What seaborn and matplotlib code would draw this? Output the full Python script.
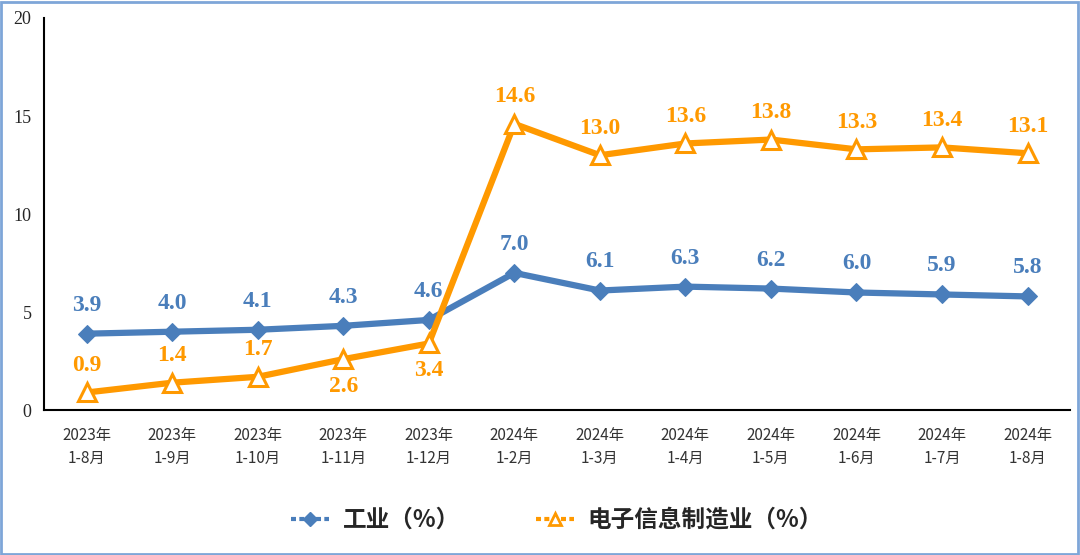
import pandas as pd
import matplotlib
matplotlib.use('Agg')
import matplotlib.pyplot as plt
import seaborn as sns
from matplotlib.patches import Rectangle
from matplotlib.lines import Line2D

periods = ['2023年\n1-8月', '2023年\n1-9月', '2023年\n1-10月', '2023年\n1-11月', '2023年\n1-12月',
           '2024年\n1-2月', '2024年\n1-3月', '2024年\n1-4月', '2024年\n1-5月', '2024年\n1-6月',
           '2024年\n1-7月', '2024年\n1-8月']
industry = [3.9, 4.0, 4.1, 4.3, 4.6, 7.0, 6.1, 6.3, 6.2, 6.0, 5.9, 5.8]
electronics = [0.9, 1.4, 1.7, 2.6, 3.4, 14.6, 13.0, 13.6, 13.8, 13.3, 13.4, 13.1]
name_ind = '工业（%）'
name_ele = '电子信息制造业（%）'

blue = '#4A7EBB'
orange = '#FF9900'

sns.set_style('white')
plt.rcParams['font.family'] = ['Noto Sans CJK SC', 'DejaVu Sans']

df = pd.DataFrame({'x': list(range(len(periods))), 'ind': industry, 'ele': electronics})

fig = plt.figure(figsize=(10.8, 5.55), dpi=100)
ax = fig.add_axes([0.0407, 0.261, 0.9503, 0.7066])

sns.lineplot(data=df, x='x', y='ind', ax=ax, color=blue, linewidth=4.5, marker='D',
             markersize=9, markeredgecolor=blue, markerfacecolor=blue, legend=False)
sns.lineplot(data=df, x='x', y='ele', ax=ax, color=orange, linewidth=4.5, marker='^',
             markersize=13, markeredgecolor=orange, markerfacecolor='white',
             markeredgewidth=2.2, legend=False)

serif = 'Liberation Serif'
for i, v in enumerate(industry):
    ax.annotate(f'{v:.1f}', (i, v), xytext=(0, 13), textcoords='offset points',
                ha='center', va='bottom', color=blue, fontsize=17, fontweight='bold', family=serif)
for i, v in enumerate(electronics):
    if i in (3, 4):
        off, va = (0, -12), 'top'
    else:
        off, va = (0, 12), 'bottom'
    ax.annotate(f'{v:.1f}', (i, v), xytext=off, textcoords='offset points',
                ha='center', va=va, color=orange, fontsize=17, fontweight='bold', family=serif)

ax.set_xlim(-0.5, len(periods) - 0.5)
ax.set_ylim(0, 20)
ax.set_yticks([0, 5, 10, 15, 20])
ax.set_yticklabels(['0', '5', '10', '15', '20'], family=serif, fontsize=13)
ax.set_xticks(range(len(periods)))
ax.set_xticklabels(periods, fontsize=11, color='#333333', linespacing=1.45)
ax.tick_params(axis='x', length=0, pad=12)
ax.tick_params(axis='y', length=0, pad=9)
ax.set_xlabel('')
ax.set_ylabel('')
for s in ['top', 'right']:
    ax.spines[s].set_visible(False)
for s in ['left', 'bottom']:
    ax.spines[s].set_color('black')
    ax.spines[s].set_linewidth(1.5)

handles = [
    Line2D([], [], color=blue, linewidth=3, linestyle=(0, (1.2, 0.8)), marker='D',
           markersize=7, markerfacecolor=blue, markeredgecolor=blue),
    Line2D([], [], color=orange, linewidth=3, linestyle=(0, (1.2, 0.8)), marker='^',
           markersize=9, markerfacecolor='white', markeredgecolor=orange, markeredgewidth=2),
]
ax.legend(handles, [name_ind, name_ele], loc='center', bbox_to_anchor=(0.5, -0.28), ncol=2,
          frameon=False, prop={'size': 17, 'weight': 'bold'}, handlelength=1.6,
          handletextpad=0.6, columnspacing=3.2)

fig.patches.append(Rectangle((0.001, 0.002), 0.997, 0.995, transform=fig.transFigure,
                             fill=False, edgecolor='#7EA6D8', linewidth=2))

fig.savefig('out.png', dpi=100)
